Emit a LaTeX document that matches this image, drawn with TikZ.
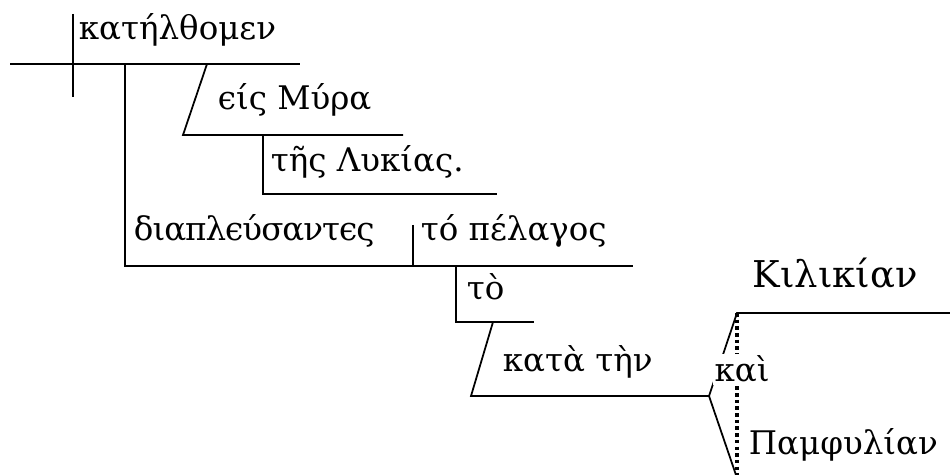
\documentclass[tikz,border=0pt]{standalone}
\usepackage{fontspec}
\setmainfont{DejaVu Serif}

\begin{document}
\begin{tikzpicture}[x=0.02cm,y=-0.02cm,line width=1pt,
  word/.style={anchor=base west,inner sep=0pt,font=\fontsize{18.5}{22}\selectfont},
  conj/.style={word,fill=white,inner sep=1pt}]
  \useasboundingbox (0,0) rectangle (950,475);
  % points of the main line
  \coordinate (m0) at (10,64);   \coordinate (m1) at (300,64);
  \coordinate (d0) at (73,14);   \coordinate (d1) at (73,97);
  \coordinate (p0) at (125,64);  \coordinate (p1) at (125,266);
  % eis Myra
  \coordinate (a0) at (207,64);  \coordinate (a1) at (183,135);
  \coordinate (a2) at (403,135);
  \coordinate (b0) at (263,135); \coordinate (b1) at (263,194);
  \coordinate (b2) at (497,194);
  % participle line
  \coordinate (c1) at (633,266);
  \coordinate (e0) at (413,225); \coordinate (e1) at (413,266);
  \coordinate (f0) at (456,266); \coordinate (f1) at (456,322);
  \coordinate (f2) at (534,322);
  \coordinate (g0) at (493,322); \coordinate (g1) at (471,396);
  \coordinate (g2) at (709,396);
  % compound object
  \coordinate (k0) at (737,313); \coordinate (k1) at (950,313);
  \coordinate (k2) at (736,475); \coordinate (k3) at (737,475);
  % draw lines
  \draw (m0) -- (m1);
  \draw (d0) -- (d1);
  \draw (p0) -- (p1) -- (c1);
  \draw (a0) -- (a1) -- (a2);
  \draw (b0) -- (b1) -- (b2);
  \draw (e0) -- (e1);
  \draw (f0) -- (f1) -- (f2);
  \draw (g0) -- (g1) -- (g2);
  \draw (g2) -- (k0) -- (k1);
  \draw (g2) -- (k2);
  \draw[line width=2pt,dash pattern=on 2pt off 1.8pt] (k0) -- (k3);
  % draw words
  \node[word] (verb) at (78,40)   {κατήλθομεν};
  \node[word] (eis)  at (217,110) {ϵίς Μύρα};
  \node[word] (lyk)  at (270,172) {τῆς Λυκίας.};
  \node[word] (diap) at (133,241) {\addfontfeature{LetterSpace=-3}διαπλϵύσαντϵς};
  \node[word] (pel)  at (420,241) {τό πέλαγος};
  \node[word] (to)   at (466,300) {τὸ};
  \node[word] (kata) at (502,372) {κατὰ τὴν};
  \node[word,font=\fontsize{21}{25}\selectfont] (kil) at (752,288) {Κιλικίαν};
  \node[word] (pam)  at (748,455) {Παμφυλίαν};
  \node[conj] (kai)  at (712,382) {καὶ};
\end{tikzpicture}
\end{document}
